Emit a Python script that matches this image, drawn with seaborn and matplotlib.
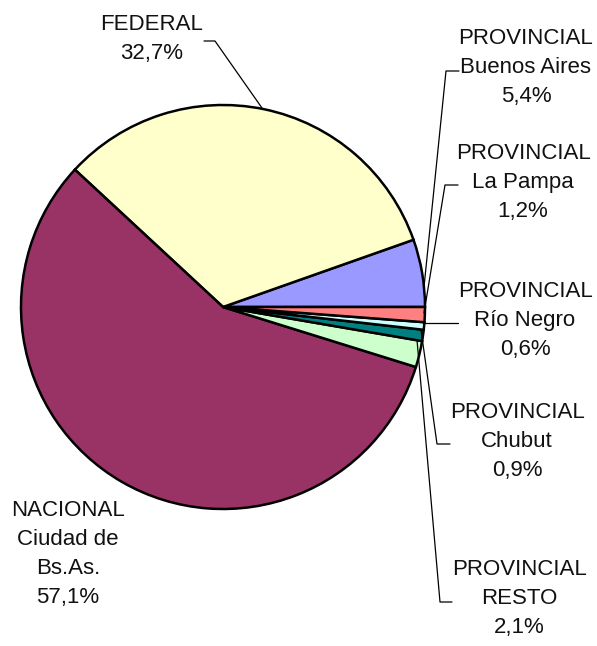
import matplotlib
matplotlib.use("Agg")
import matplotlib.pyplot as plt
import seaborn as sns

sns.set_theme(style="white")
plt.rcParams['font.family'] = ['Liberation Sans Narrow', 'Liberation Sans', 'DejaVu Sans']

# Data (counterclockwise from east)
categories = ["PROVINCIAL\nBuenos Aires", "FEDERAL", "NACIONAL\nCiudad de\nBs.As.",
              "PROVINCIAL\nRESTO", "PROVINCIAL\nChubut", "PROVINCIAL\nRío Negro",
              "PROVINCIAL\nLa Pampa"]
values = [5.4, 32.7, 57.1, 2.1, 0.9, 0.6, 1.2]
labels_pct = ["5,4%", "32,7%", "57,1%", "2,1%", "0,9%", "0,6%", "1,2%"]
colors = ["#9999FF", "#FFFFCC", "#993366", "#CCFFCC", "#008080", "#CCFFFF", "#FF8080"]

W, H = 597, 646
fig = plt.figure(figsize=(W / 100, H / 100), dpi=100)
ax = fig.add_axes([0, 0, 1, 1])

cx, cy, r = 223, 307, 202
ax.pie(values, colors=colors, startangle=0, counterclock=True, center=(cx, H - cy),
       radius=r, wedgeprops=dict(edgecolor="black", linewidth=1.8), frame=False)
ax.set_xlim(0, W)
ax.set_ylim(0, H)
ax.set_aspect("equal")
ax.axis("off")

# Labels: (center x, first-line center y) in pixel coords (top-left origin)
label_pos = {
    0: (526, 38),
    1: (152, 24),
    2: (68, 510),
    3: (519, 569),
    4: (517, 412),
    5: (525, 291),
    6: (523, 153),
}
fs = 16
ls = 1.5
for i, (x, y) in label_pos.items():
    ax.text(x, H - (y - 10), categories[i] + "\n" + labels_pct[i], ha="center", va="top",
            fontsize=fs, linespacing=ls, color="#111111")

leaders = [
    [(459, 71), (446, 71), (424, 287)],
    [(204, 41), (215, 41), (262, 108)],
    [(458, 185), (445, 185), (424, 313)],
    [(458, 323), (423, 323)],
    [(450, 444), (437, 444), (421, 330)],
    [(452, 602), (440, 602), (417, 340)],
]
for pts in leaders:
    xs, ys = zip(*pts)
    ax.plot(xs, [H - y for y in ys], color="black", lw=0.9)

fig.savefig("out.png", dpi=100)
